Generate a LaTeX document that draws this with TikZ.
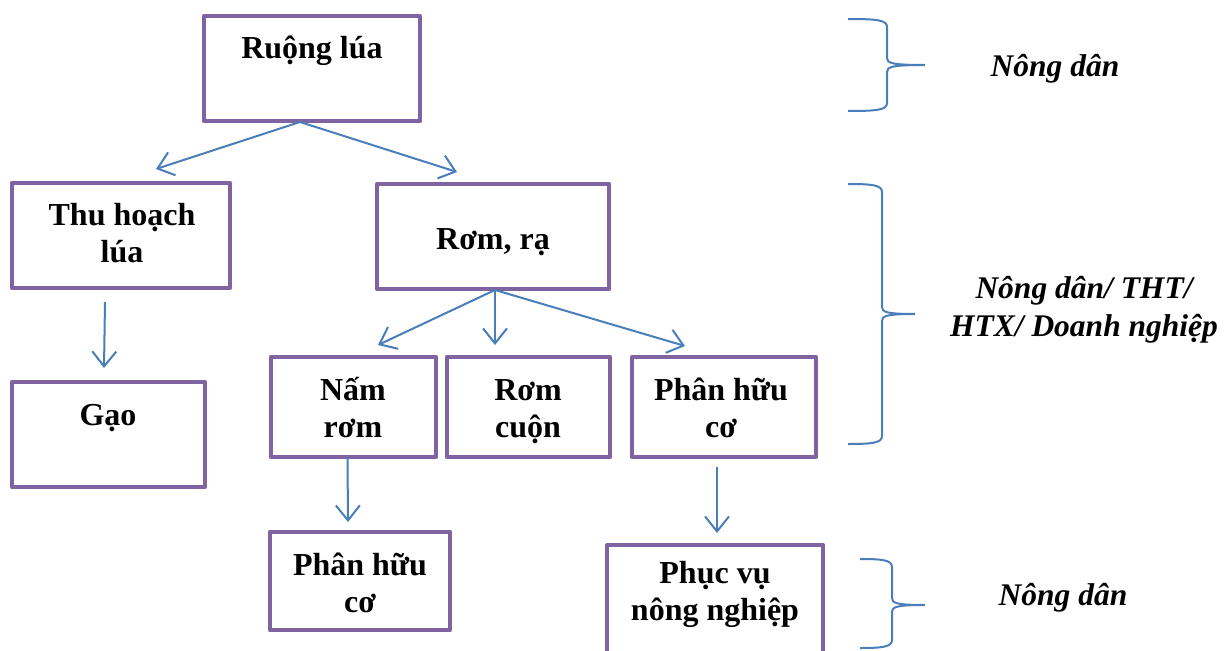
\documentclass[tikz,border=0pt]{standalone}
\usepackage{fontspec}
\setmainfont{Liberation Serif}
\usetikzlibrary{arrows.meta,calc}
\definecolor{boxpurple}{HTML}{8064A2}
\definecolor{arrowblue}{HTML}{4A7EBB}
\newcommand\ml[1]{\begin{tabular}[t]{@{}c@{}}#1\end{tabular}}
% #1 end x, #2 vertical x, #3 tip x, #4 top y, #5 tip y, #6 bottom y
\newcommand\mybrace[6]{%
  \draw[bracestyle] (#1,#4) .. controls (#2-10,#4) and (#2,#4+1) .. (#2,#4+8)
    -- (#2,#5-7) .. controls (#2,#5-2) and (#2+4,#5) .. (#3,#5)
    .. controls (#2+4,#5) and (#2,#5+2) .. (#2,#5+7)
    -- (#2,#6-8) .. controls (#2,#6-1) and (#2-10,#6) .. (#1,#6);}
\begin{document}
\begin{tikzpicture}[x=1pt,y=-1pt,
  box/.style={draw=boxpurple,line width=4.5pt,line join=round,inner sep=0pt,outer sep=0pt,rectangle},
  txt/.style={anchor=base,inner sep=0pt,font=\fontsize{32}{37}\selectfont\bfseries},
  lbl/.style={anchor=base,inner sep=0pt,font=\fontsize{31.5}{38}\selectfont\bfseries\itshape},
  arr/.style={draw=arrowblue,line width=2pt,-{Straight Barb[length=15pt,width=24pt]}},
  bracestyle/.style={draw=arrowblue,line width=2pt}]
\useasboundingbox (0,0) rectangle (1225,650);
\clip (0,0) rectangle (1225,650);

% boxes
\node[box,minimum width=216pt,minimum height=105pt] (ruong) at (312,68.5) {};
\node[box,minimum width=218pt,minimum height=105pt] (thu) at (121,235.5) {};
\node[box,minimum width=232pt,minimum height=105pt] (rom) at (493,236.5) {};
\node[box,minimum width=193pt,minimum height=105pt] (gao) at (108.5,434.5) {};
\node[box,minimum width=165pt,minimum height=100pt] (nam) at (353.5,407) {};
\node[box,minimum width=163pt,minimum height=100pt] (cuon) at (528.5,407) {};
\node[box,minimum width=184pt,minimum height=100pt] (phan1) at (724,407) {};
\node[box,minimum width=180pt,minimum height=98pt] (phan2) at (360,581) {};
\node[box,minimum width=216pt,minimum height=110pt] (phuc) at (715,600) {};

% texts
\node[txt] (t-ruong) at (312,59) {Ruộng lúa};
\node[txt] (t-thu) at (122,225) {\ml{Thu hoạch\\lúa}};
\node[txt] (t-rom) at (493,249) {Rơm, rạ};
\node[txt] (t-gao) at (108,425) {Gạo};
\node[txt] (t-nam) at (353,400) {\ml{Nấm\\rơm}};
\node[txt] (t-cuon) at (528,400) {\ml{Rơm\\cuộn}};
\node[txt] (t-phan1) at (721,400) {\ml{Phân hữu\\cơ}};
\node[txt] (t-phan2) at (360,575) {\ml{Phân hữu\\cơ}};
\node[txt] (t-phuc) at (715,583) {\ml{Phục vụ\\nông nghiệp}};

% arrows
\draw[arr] ($(ruong.south)+(-12,1)$) -- ($(thu.north)+(35,-14)$);
\draw[arr] ($(ruong.south)+(-12,1)$) -- ($(rom.north)+(-36,-12)$);
\draw[arr] ($(thu.south)+(-16,14)$) -- ($(gao.north)+(-4.5,-14)$);
\draw[arr] ($(rom.south)+(2,1)$) -- ($(nam.north)+(24.5,-12)$);
\draw[arr] ($(rom.south)+(2,1)$) -- ($(cuon.north)+(-33.5,-12)$);
\draw[arr] ($(rom.south)+(2,1)$) -- ($(phan1.north)+(-39,-11)$);
\draw[arr] ($(nam.south)+(-6,0)$) -- ($(phan2.north)+(-12,-10)$);
\draw[arr] ($(phan1.south)+(-7,10)$) -- ($(phuc.north)+(2,-12)$);

% braces
\mybrace{848}{887}{925}{19}{65}{111}
\mybrace{848}{882}{915}{184}{314}{444}
\mybrace{860}{892}{925}{559}{605}{648}

% labels
\node[lbl] (l-1) at (1055,77) {Nông dân};
\node[lbl] (l-2) at (1084,298) {\ml{Nông dân/ THT/\\HTX/ Doanh nghiệp}};
\node[lbl] (l-3) at (1063,605) {Nông dân};
\end{tikzpicture}
\end{document}
